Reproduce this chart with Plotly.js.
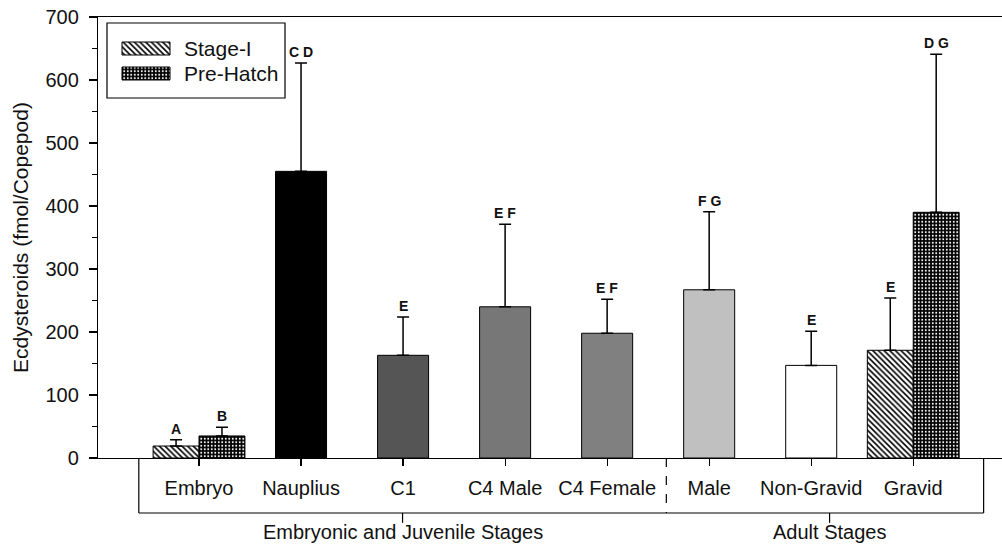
<!DOCTYPE html>
<html>
<head>
<meta charset="utf-8">
<script src="https://cdn.plot.ly/plotly-3.0.1.min.js"></script>
<style>html,body{margin:0;padding:0;background:#fff;}#chart{width:1002px;height:547px;}</style>
</head>
<body>
<div id="chart"></div>
<script>
// ---- data ----
const categories = ['Embryo', 'Nauplius', 'C1', 'C4 Male', 'C4 Female', 'Male', 'Non-Gravid', 'Gravid'];
const groupNames = ['Embryonic and Juvenile Stages', 'Adult Stages'];
const seriesNames = ['Stage-I', 'Pre-Hatch'];

const stageICats = ['Embryo', 'Gravid'];
const stageIMean = [19, 171];
const stageITop = [29, 254];
const stageILetters = ['A', 'E'];

const preHatchCats = ['Embryo', 'Gravid'];
const preHatchMean = [35, 390];
const preHatchTop = [49, 641];
const preHatchLetters = ['B', 'D G'];

const singleCats = ['Nauplius', 'C1', 'C4 Male', 'C4 Female', 'Male', 'Non-Gravid'];
const singleMean = [455, 163, 240, 198, 267, 147];
const singleTop = [627, 224, 371, 252, 391, 201];
const singleLetters = ['C D', 'E', 'E F', 'E F', 'F G', 'E'];
const singleColors = ['#000000', '#555555', '#777777', '#808080', '#c0c0c0', '#ffffff'];

// ---- chart ----
const FONT = 'Liberation Sans, Arial, sans-serif';
const errPlus = (m, t) => m.map((v, i) => t[i] - v);
const errStyle = {color: '#000', thickness: 1.5, width: 6};
const hatchPattern = {shape: '\\', fgcolor: '#000', bgcolor: '#fff', size: 4, solidity: 0.4};
const dotPattern = {shape: '.', fgcolor: '#fff', bgcolor: '#000', size: 3.5, solidity: 0.25};

const traces = [
  {
    type: 'bar', name: seriesNames[0], x: stageICats, y: stageIMean,
    offset: -0.45, width: 0.45, showlegend: false,
    marker: {color: '#fff', line: {color: '#000', width: 1}, pattern: hatchPattern},
    error_y: Object.assign({type: 'data', symmetric: false, array: errPlus(stageIMean, stageITop), arrayminus: stageIMean.map(() => 0)}, errStyle)
  },
  {
    type: 'bar', name: seriesNames[1], x: preHatchCats, y: preHatchMean,
    offset: 0, width: 0.45, showlegend: false,
    marker: {color: '#000', line: {color: '#000', width: 1}, pattern: dotPattern},
    error_y: Object.assign({type: 'data', symmetric: false, array: errPlus(preHatchMean, preHatchTop), arrayminus: preHatchMean.map(() => 0)}, errStyle)
  },
  {
    type: 'bar', name: 'single', showlegend: false, x: singleCats, y: singleMean,
    offset: -0.25, width: 0.5,
    marker: {color: singleColors, line: {color: '#000', width: 1}},
    error_y: Object.assign({type: 'data', symmetric: false, array: errPlus(singleMean, singleTop), arrayminus: singleMean.map(() => 0)}, errStyle)
  }
];

// legend swatches drawn on a hidden overlay axis measured in pixels
const legendSwatchX = [122, 170];
const legendSwatchY = [[42, 55], [67, 80]];
const legendPatterns = [hatchPattern, dotPattern];
legendSwatchY.forEach((yy, i) => traces.push({
  type: 'scatter', mode: 'lines', xaxis: 'x2', yaxis: 'y2', showlegend: false, hoverinfo: 'skip',
  x: [legendSwatchX[0], legendSwatchX[1], legendSwatchX[1], legendSwatchX[0], legendSwatchX[0]],
  y: [yy[0], yy[0], yy[1], yy[1], yy[0]],
  fill: 'toself', fillcolor: legendPatterns[i].bgcolor, fillpattern: legendPatterns[i],
  line: {color: '#000', width: 1}
}));

const idx = c => categories.indexOf(c);
const annotations = [];
function addLetters(cats, tops, letters, shift) {
  cats.forEach((c, i) => annotations.push({
    x: idx(c) + shift, y: tops[i], xref: 'x', yref: 'y', text: letters[i],
    showarrow: false, yanchor: 'bottom', yshift: 1,
    font: {family: FONT, size: 14, color: '#111', weight: 'bold'}
  }));
}
addLetters(stageICats, stageITop, stageILetters, -0.225);
addLetters(preHatchCats, preHatchTop, preHatchLetters, 0.225);
addLetters(singleCats, singleTop, singleLetters, 0);

seriesNames.forEach((n, i) => annotations.push({
  x: 182, y: (legendSwatchY[i][0] + legendSwatchY[i][1]) / 2, xref: 'x2', yref: 'y2',
  text: n, showarrow: false, xanchor: 'left', yanchor: 'middle',
  font: {family: FONT, size: 21, color: '#111'}
}));

// group bracket box below the axis
const boxL = -0.59, boxR = 7.69, divX = 4.58, boxB = -0.1247, tickB = -0.147;
const groupTickX = [(boxL + divX) / 2, 6.18];
groupNames.forEach((g, i) => annotations.push({
  x: groupTickX[i], y: -0.168, xref: 'x', yref: 'paper', text: g, showarrow: false,
  yanchor: 'middle', font: {family: FONT, size: 20, color: '#111'}
}));

const shapes = [
  {type: 'rect', xref: 'x2', yref: 'y2', x0: 107, x1: 285, y0: 23, y1: 98, line: {color: '#000', width: 1.2}, fillcolor: 'rgba(0,0,0,0)'},
  {type: 'line', xref: 'x', yref: 'paper', x0: boxL, x1: boxL, y0: 0, y1: boxB, line: {color: '#000', width: 1.2}},
  {type: 'line', xref: 'x', yref: 'paper', x0: boxR, x1: boxR, y0: 0, y1: boxB, line: {color: '#000', width: 1.2}},
  {type: 'line', xref: 'x', yref: 'paper', x0: boxL, x1: boxR, y0: boxB, y1: boxB, line: {color: '#000', width: 1.2}},
  {type: 'line', xref: 'x', yref: 'paper', x0: divX, x1: divX, y0: 0, y1: boxB, line: {color: '#000', width: 1.2, dash: 'dash'}},
  {type: 'line', xref: 'x', yref: 'paper', x0: groupTickX[0], x1: groupTickX[0], y0: boxB, y1: tickB, line: {color: '#000', width: 1.2}},
  {type: 'line', xref: 'x', yref: 'paper', x0: groupTickX[1], x1: groupTickX[1], y0: boxB, y1: tickB, line: {color: '#000', width: 1.2}}
];

const layout = {
  width: 1002, height: 547,
  margin: {l: 98, r: 0, t: 17, b: 89},
  paper_bgcolor: '#fff', plot_bgcolor: '#fff',
  barmode: 'overlay',
  showlegend: false,
  xaxis: {
    type: 'category', categoryarray: categories, categoryorder: 'array',
    range: [-0.99, 7.87], showgrid: false, zeroline: false,
    showline: true, linecolor: '#000', linewidth: 1.2, mirror: true,
    ticks: 'outside', ticklen: 7, tickcolor: '#000', tickwidth: 1.2,
    ticklabelstandoff: 5,
    tickfont: {family: FONT, size: 20, color: '#111'}
  },
  yaxis: {
    range: [0, 700], dtick: 100, showgrid: false, zeroline: false,
    showline: true, linecolor: '#000', linewidth: 1.2,
    ticks: 'outside', ticklen: 8, tickcolor: '#000', tickwidth: 1.2,
    ticklabelstandoff: 6,
    minor: {dtick: 50, ticks: 'outside', ticklen: 5, tickcolor: '#000', tickwidth: 1},
    tickfont: {family: FONT, size: 20, color: '#111'},
    title: {text: 'Ecdysteroids (fmol/Copepod)', standoff: 11, font: {family: FONT, size: 21, color: '#111'}}
  },
  xaxis2: {overlaying: 'x', anchor: 'y2', range: [98, 1002], visible: false, fixedrange: true},
  yaxis2: {overlaying: 'y', anchor: 'x2', range: [458, 17], visible: false, fixedrange: true},
  annotations: annotations,
  shapes: shapes
};

Plotly.newPlot('chart', traces, layout, {displayModeBar: false, staticPlot: true});
</script>
</body>
</html>
